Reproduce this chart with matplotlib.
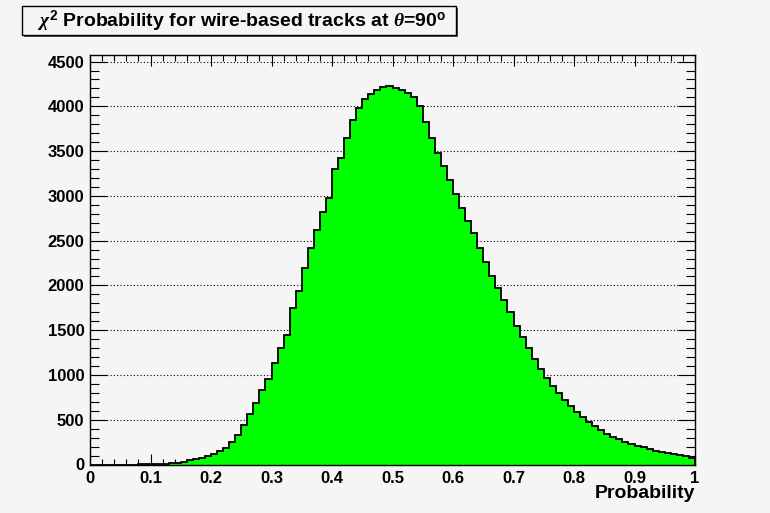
import numpy as np
import matplotlib
matplotlib.use('Agg')
from matplotlib import pyplot as plt
from matplotlib.patches import Rectangle
from matplotlib.ticker import MultipleLocator, FuncFormatter

# counts per 0.01 wide bin of the chi2 probability
n_bins = 100
counts = [
	0, 0, 0, 0, 0, 0, 0, 0, 1, 2,
	3, 5, 8, 12, 20, 30, 45, 58, 72, 92,
	115, 150, 185, 250, 330, 440, 560, 690, 830, 960,
	1130, 1300, 1450, 1750, 1940, 2200, 2420, 2620, 2820, 2980,
	3300, 3420, 3650, 3850, 3980, 4080, 4140, 4180, 4220, 4230,
	4200, 4180, 4150, 4100, 4000, 3820, 3650, 3480, 3330, 3180,
	3020, 2860, 2720, 2580, 2420, 2260, 2110, 1970, 1840, 1700,
	1550, 1420, 1300, 1180, 1070, 970, 880, 800, 720, 650,
	585, 530, 475, 425, 385, 345, 310, 280, 255, 230,
	210, 190, 172, 155, 140, 128, 118, 108, 95, 75,
]
title = r'$\chi^{2}$ Probability for wire-based tracks at $\theta$=90$^{\mathrm{o}}$'
x_title = 'Probability'

bg = '#f5f5f5'
plt.rcParams['font.family'] = ['Liberation Sans', 'DejaVu Sans']
plt.rcParams['font.weight'] = 'bold'
plt.rcParams['mathtext.fontset'] = 'custom'
plt.rcParams['mathtext.rm'] = 'Liberation Sans:bold'
plt.rcParams['mathtext.bf'] = 'Liberation Sans:bold'
plt.rcParams['mathtext.it'] = 'Liberation Serif:italic'

fig = plt.figure(figsize=(7.7, 5.13), dpi=100, facecolor=bg)
ax = fig.add_axes([90/770, 1 - 464.5/513, 605/770, 409.2/513])
ax.set_facecolor(bg)

edges = np.linspace(0, 1, n_bins + 1)
ax.stairs(counts, edges, fill=True, color='#00ff00', zorder=2)
ax.stairs(counts, edges, color='black', lw=1.3, zorder=3)

ax.set_xlim(0, 1)
ax.set_ylim(0, 4570)
ax.xaxis.set_major_locator(MultipleLocator(0.1))
ax.xaxis.set_minor_locator(MultipleLocator(0.02))
ax.yaxis.set_major_locator(MultipleLocator(500))
ax.yaxis.set_minor_locator(MultipleLocator(100))
ax.xaxis.set_major_formatter(FuncFormatter(lambda v, p: '%g' % round(v, 2)))

ax.tick_params(which='both', direction='in', top=True, right=True, width=0.8, labelsize=12)
ax.tick_params(axis='x', which='major', length=8, pad=5)
ax.tick_params(axis='x', which='minor', length=4)
ax.tick_params(axis='y', which='major', length=12, pad=4)
ax.tick_params(axis='y', which='minor', length=6.5)
for lab in ax.get_xticklabels() + ax.get_yticklabels():
	lab.set_fontweight('bold')
for s in ax.spines.values():
	s.set_linewidth(1.0)

ax.set_axisbelow(True)
ax.yaxis.grid(True, which='major', color='black', linestyle=(0, (1, 2)), lw=0.8)

ax.set_xlabel(x_title, fontsize=14, fontweight='bold', ha='right')
ax.xaxis.set_label_coords(1.0, -0.05)

# title pave
t = fig.text(37/770, 1 - 21/513, title, fontsize=14, fontweight='bold', ha='left', va='center')
fig.canvas.draw()
bb = t.get_window_extent()
right = (bb.x1 + 10) / 770
fig.patches.append(Rectangle((22/770, 1 - 35/513), right - 22/770, 28.5/513,
	transform=fig.transFigure, fill=False, ec='black', lw=1.0, zorder=5))
fig.patches.append(Rectangle((24/770, 1 - 37/513), right - 22/770, 2/513,
	transform=fig.transFigure, fc='#555555', ec='none', zorder=4))
fig.patches.append(Rectangle((right, 1 - 37/513), 2/770, 28.5/513,
	transform=fig.transFigure, fc='#555555', ec='none', zorder=4))

fig.savefig('out.png', dpi=100, facecolor=bg)
